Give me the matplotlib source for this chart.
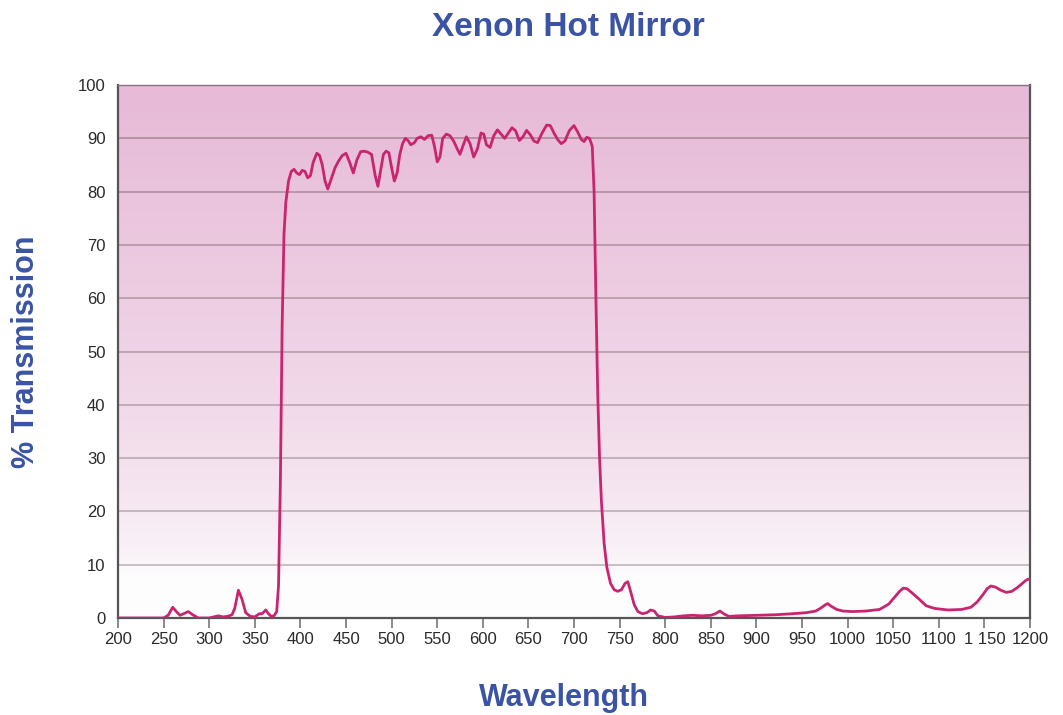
import numpy as np
import matplotlib.pyplot as plt
from matplotlib import font_manager

# wavelength (nm) and % transmission
wavelength = [200, 250, 255, 260, 264, 268, 272, 277, 282, 288, 300, 305, 310, 315, 320, 325, 328,
              332, 336, 340, 345, 350, 355, 358, 362, 365, 368, 371, 374, 376, 378, 380, 382, 384,
              387, 390, 393, 396, 399, 402, 405, 408, 411, 414, 418, 421, 424, 427, 430, 434, 438,
              442, 446, 450, 454, 458, 462, 466, 470, 474, 478, 482, 485, 488, 491, 494, 497, 500,
              503, 506, 509, 512, 515, 518, 521, 525, 528, 532, 536, 540, 544, 547, 550, 553, 556,
              560, 564, 568, 572, 575, 578, 582, 586, 590, 594, 598, 601, 604, 608, 612, 616, 620,
              624, 628, 632, 636, 640, 644, 648, 652, 656, 660, 665, 670, 674, 678, 682, 686, 690,
              695, 700, 704, 708, 711, 714, 717, 720, 722, 724, 726, 728, 730, 733, 736, 740, 744,
              748, 752, 756, 759, 762, 766, 770, 775, 780, 784, 788, 792, 800, 810, 820, 830, 840,
              850, 855, 860, 865, 870, 880, 900, 920, 940, 955, 965, 970, 975, 978, 982, 988, 995,
              1005, 1020, 1035, 1045, 1052, 1057, 1061, 1065, 1070, 1078, 1086, 1095, 1110, 1125,
              1135, 1142, 1148, 1153, 1157, 1162, 1168, 1174, 1180, 1186, 1191, 1195, 1198, 1200]
transmission = [0.0, 0.0, 0.5, 2.0, 1.2, 0.5, 0.8, 1.2, 0.6, 0.0, 0.0, 0.2, 0.4, 0.2, 0.3, 0.6, 1.8,
                5.2, 3.5, 1.0, 0.3, 0.2, 0.8, 0.8, 1.5, 0.8, 0.3, 0.4, 1.2, 6.0, 25.0, 55.0, 72.0, 78.0,
                82.0, 83.8, 84.2, 83.5, 83.2, 84.0, 83.8, 82.6, 83.0, 85.5, 87.2, 86.8, 85.0, 82.0, 80.5,
                82.5, 84.5, 85.8, 86.8, 87.2, 85.5, 83.5, 86.0, 87.5, 87.6, 87.4, 87.0, 83.0, 81.0, 84.0,
                87.0, 87.6, 87.3, 84.5, 82.0, 83.5, 87.0, 89.0, 90.0, 89.6, 88.8, 89.2, 90.0, 90.3, 89.8,
                90.5, 90.6, 88.5, 85.6, 86.5, 90.0, 90.8, 90.5, 89.5, 88.0, 87.0, 88.5, 90.3, 89.0, 86.5,
                88.0, 91.0, 90.8, 88.8, 88.3, 90.5, 91.6, 90.8, 90.0, 91.0, 92.0, 91.4, 89.6, 90.3, 91.5,
                90.7, 89.5, 89.2, 91.0, 92.5, 92.4, 91.0, 89.8, 89.0, 89.5, 91.5, 92.4, 91.2, 89.8, 89.4,
                90.2, 90.0, 88.5, 80.0, 60.0, 42.0, 30.0, 22.0, 14.0, 9.5, 6.5, 5.3, 5.0, 5.3, 6.5, 6.8,
                5.0, 2.5, 1.2, 0.8, 1.0, 1.5, 1.3, 0.4, 0.1, 0.2, 0.4, 0.5, 0.4, 0.5, 0.8, 1.3, 0.7,
                0.3, 0.4, 0.5, 0.6, 0.8, 1.0, 1.3, 1.8, 2.4, 2.7, 2.2, 1.6, 1.3, 1.2, 1.3, 1.6, 2.6, 4.0,
                5.0, 5.6, 5.5, 4.8, 3.6, 2.3, 1.8, 1.5, 1.6, 2.0, 3.0, 4.3, 5.5, 6.0, 5.8, 5.2, 4.8, 5.0,
                5.7, 6.4, 7.0, 7.3, 7.2]

x_ticks = list(range(200, 1201, 50))
x_tick_labels = [str(t) if t != 1150 else "1 150" for t in x_ticks]
y_ticks = list(range(0, 101, 10))

title_blue = "#3a53a4"
line_col = "#c9256f"

fams = [f.name for f in font_manager.fontManager.ttflist]
head_font = "Liberation Sans Narrow" if "Liberation Sans Narrow" in fams else "Liberation Sans"
plt.rcParams['font.family'] = ['Liberation Sans', 'DejaVu Sans']

fig = plt.figure(figsize=(10.63, 7.15), dpi=100)
ax = fig.add_axes([0.111, 0.1357, 0.858, 0.7453])

# pink to white vertical gradient behind the plot
yy = np.linspace(0, 100, 400).reshape(-1, 1)
top = np.array([231, 186, 215]) / 255.0
bot = np.array([253, 253, 254]) / 255.0
w = np.clip((yy - 8) / 92.0, 0, 1) ** 0.6
img = bot * (1 - w[..., None]) + top * w[..., None]
ax.imshow(img, extent=[200, 1200, 0, 100], origin='lower', aspect='auto', zorder=0)

grid_top = np.array([178, 140, 160]) / 255.0
grid_bot = np.array([205, 200, 202]) / 255.0
for y in y_ticks[1:-1]:
    f = (y / 100.0) ** 0.8
    ax.axhline(y, color=grid_bot * (1 - f) + grid_top * f, lw=1.4, zorder=1)

ax.plot(wavelength, transmission, color=line_col, lw=2.0, zorder=3, solid_joinstyle='round')

ax.set_xlim(200, 1200)
ax.set_ylim(0, 100)
ax.set_xticks(x_ticks)
ax.set_xticklabels(x_tick_labels)
ax.set_yticks(y_ticks)
ax.tick_params(axis='x', direction='out', length=7, width=1.2, color="#777777", labelsize=12,
               labelcolor="#2a2a2a", pad=3)
ax.tick_params(axis='y', length=0, labelsize=12, labelcolor="#2a2a2a", pad=9)
for s in ax.spines.values():
    s.set_color("#555555")
    s.set_linewidth(1.6)
ax.spines['top'].set_color("#8a7080")
ax.spines['top'].set_linewidth(1.0)

fig.text(0.535, 0.962, "Xenon Hot Mirror", ha='center', va='center', fontsize=24, fontweight='bold',
         color=title_blue, family=[head_font, 'DejaVu Sans'])
fig.text(0.531, 0.024, "Wavelength", ha='center', va='center', fontsize=22, fontweight='bold',
         color=title_blue, family=[head_font, 'DejaVu Sans'])
fig.text(0.024, 0.508, "% Transmission", ha='center', va='center', rotation=90, fontsize=22,
         fontweight='bold', color=title_blue, family=[head_font, 'DejaVu Sans'])

fig.savefig("out.png", dpi=100)
